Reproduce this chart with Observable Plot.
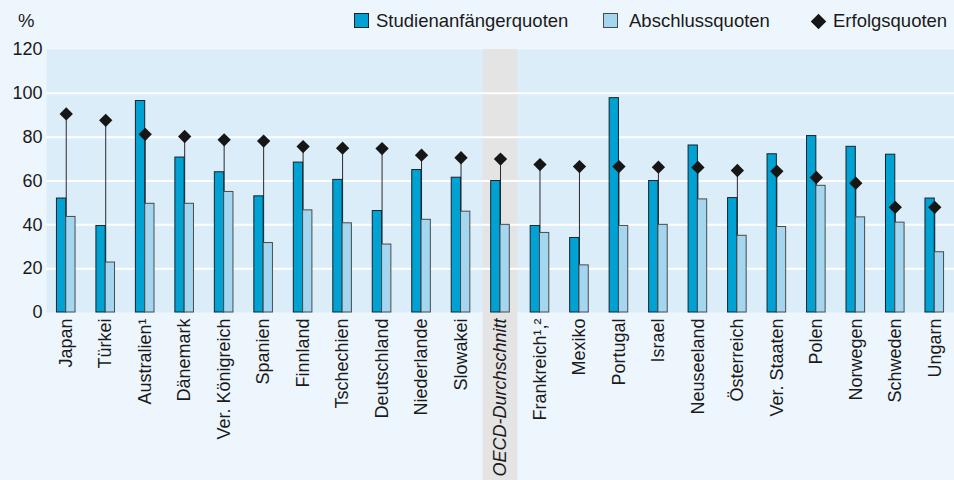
<!DOCTYPE html>
<html>
<head>
<meta charset="utf-8">
<script src="https://cdn.jsdelivr.net/npm/d3@7"></script>
<script src="https://cdn.jsdelivr.net/npm/@observablehq/plot@0.6"></script>
<style>
  html, body { margin: 0; padding: 0; background: #eef6fd; }
  #wrap { width: 954px; height: 480px; position: relative; overflow: hidden; font-family: "Liberation Sans", Arial, sans-serif; color: #1a1a1a; }
  #legend { position: relative; height: 40px; font-size: 18.5px; }
  #legend .t { position: absolute; top: 11px; line-height: 20px; white-space: nowrap; }
  #legend .sw { position: absolute; top: 13px; width: 13px; height: 13px; }
  #legend .dia { position: absolute; width: 11px; height: 11px; background: #161616; transform: rotate(45deg); }
  #chart svg { display: block; }
</style>
</head>
<body>
<div id="wrap">
  <div id="legend"></div>
  <div id="chart"></div>
</div>
<script>
// ---- data ----
const countries = ["Japan","Türkei","Australien¹","Dänemark","Ver. Königreich","Spanien","Finnland","Tschechien","Deutschland","Niederlande","Slowakei","OECD-Durchschnitt","Frankreich¹,²","Mexiko","Portugal","Israel","Neuseeland","Österreich","Ver. Staaten","Polen","Norwegen","Schweden","Ungarn"];
const studienanfaengerquoten = [52, 39.5, 96.5, 70.7, 64, 53, 68.4, 60.5, 46.3, 65, 61.5, 60, 39.5, 34, 97.8, 60, 76.2, 52.2, 72.2, 80.5, 75.6, 72, 52];
const abschlussquoten        = [43.6, 22.8, 49.6, 49.6, 55, 31.7, 46.6, 40.7, 31, 42.3, 46, 40, 36.3, 21.5, 39.5, 40, 51.6, 35, 39, 57.8, 43.4, 41, 27.5];
const erfolgsquoten          = [90.6, 87.7, 81.3, 80.3, 78.8, 78.2, 75.7, 75, 74.8, 71.8, 70.6, 70, 67.5, 66.6, 66.6, 66.3, 66.2, 64.8, 64.4, 61.6, 59, 48, 48];
const yTicks = [0, 20, 40, 60, 80, 100, 120];
const highlight = "OECD-Durchschnitt";
const seriesNames = ["Studienanfängerquoten", "Abschlussquoten", "Erfolgsquoten"];
const unit = "%";

// ---- styles ----
const colDark = "#00a1d3", colLight = "#a5d6ef", colDiamond = "#161616";

// ---- legend ----
const legend = document.getElementById("legend");
legend.innerHTML = `
  <span class="t" style="left:18px">${unit}</span>
  <span class="sw" style="left:354px;background:${colDark};border:1px solid #15242c"></span>
  <span class="t" style="left:376px">${seriesNames[0]}</span>
  <span class="sw" style="left:603px;background:${colLight};border:1px solid #4a4a4a"></span>
  <span class="t" style="left:629px">${seriesNames[1]}</span>
  <span class="dia" style="left:813px;top:16px"></span>
  <span class="t" style="left:833px">${seriesNames[2]}</span>`;

// ---- chart ----
const rows = countries.map((c, i) => ({c, a: studienanfaengerquoten[i], b: abschlussquoten[i], e: erfolgsquoten[i]}));
const W = 954, H = 440, mT = 9, mB = 168, mL = 46, mR = 0;
const step = (W - mL - mR) / countries.length;
const barW = 9.3;

const chart = Plot.plot({
  width: W, height: H,
  marginTop: mT, marginBottom: mB, marginLeft: mL, marginRight: mR,
  style: {background: "transparent", fontFamily: "Liberation Sans, Arial, sans-serif", fontSize: "18px", color: "#1a1a1a", overflow: "visible"},
  x: {domain: countries, padding: 0, round: false, label: null},
  y: {domain: [0, 120], label: null},
  marks: [
    Plot.frame({fill: "#dbedf9", stroke: null}),
    Plot.barY([highlight], {x: d => d, y1: 0, y2: 120, fill: "#e4e4e4", insetBottom: -mB, insetLeft: 2.3, insetRight: 2.3}),
    Plot.gridY(yTicks.filter(t => t > 0 && t < 120), {stroke: "white", strokeOpacity: 1, strokeWidth: 2}),
    Plot.ruleX(rows, {x: "c", y1: 0, y2: "e", stroke: "#2a2a2a", strokeWidth: 1}),
    Plot.barY(rows, {x: "c", y: "a", fill: colDark, stroke: "#15242c", strokeWidth: 1, insetLeft: step / 2 - barW, insetRight: step / 2}),
    Plot.barY(rows, {x: "c", y: "b", fill: colLight, stroke: "#4a4a4a", strokeWidth: 1, insetLeft: step / 2, insetRight: step / 2 - barW}),
    Plot.dot(rows, {x: "c", y: "e", symbol: "diamond2", r: 6, fill: colDiamond, stroke: "none"}),
    Plot.axisY(yTicks, {tickSize: 0, tickPadding: 4, fontSize: 18, label: null}),
    Plot.axisX(countries.filter(c => c !== highlight), {tickSize: 0, tickRotate: -90, tickPadding: 6, fontSize: 18, label: null}),
    Plot.axisX([highlight], {tickSize: 0, tickRotate: -90, tickPadding: 6, fontSize: 18, fontStyle: "italic", label: null})
  ]
});
document.getElementById("chart").appendChild(chart);
</script>
</body>
</html>
